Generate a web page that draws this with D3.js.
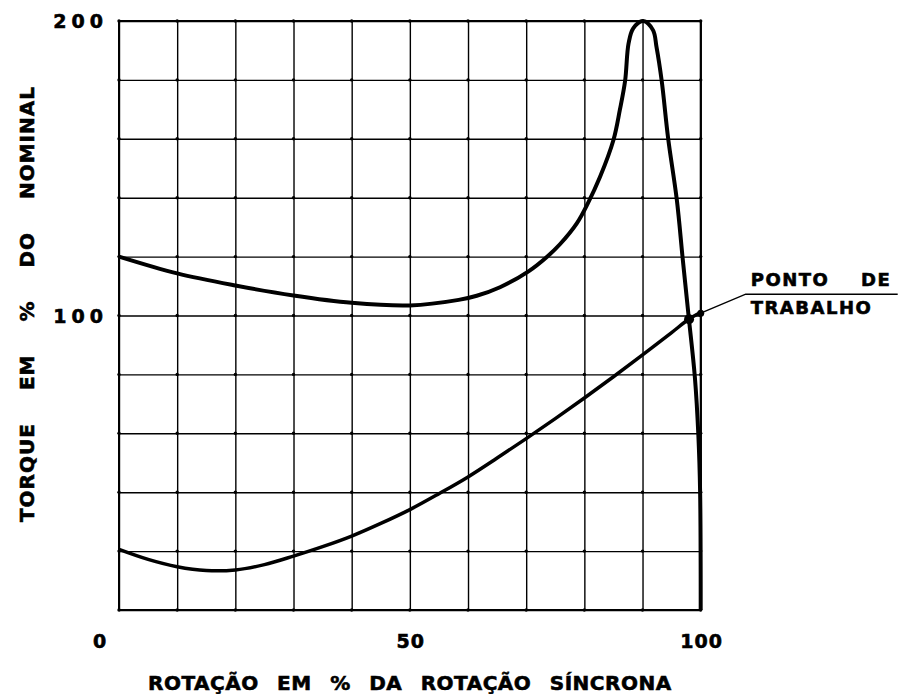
<!DOCTYPE html>
<html>
<head>
<meta charset="utf-8">
<script src="https://cdn.jsdelivr.net/npm/d3@7"></script>
<style>
    body { margin: 0; background: #fff; }
    text { font-family: "DejaVu Sans", sans-serif; font-weight: bold; fill: #000; stroke: #000; stroke-width: 0.6px; }
</style>
</head>
<body>
<div id="chart"></div>
<script>

// curva do motor (torque em % do nominal x rotacao em % da sincrona)
var motorSpeed  = [0, 10, 20, 30, 40, 50, 58.4, 61.5, 65.5, 70.4, 73.5, 75.8, 78.7, 80.6, 82.7, 85.0, 86.1, 87.0, 87.6, 88.4, 90.1, 91.8, 92.4, 93.3, 94.4, 95.9, 96.9, 97.9, 99.0, 99.6, 99.9, 100];
var motorTorque = [120, 114.3, 110.2, 106.8, 104.3, 103.4, 105.3, 106.7, 109.6, 115.0, 119.8, 124.2, 131.3, 138.1, 147.1, 159.6, 169.8, 179.6, 192.4, 197.5, 200, 196.9, 191.2, 179.6, 160.2, 139.2, 119.4, 100.2, 79, 59.3, 40, 0];

// curva da carga
var loadSpeed  = [0, 5, 10, 15, 20, 25, 30, 35, 40, 45, 50, 55, 60, 65, 70, 75, 80, 85, 90, 95, 98, 100];
var loadTorque = [20.6, 17.2, 14.7, 13.4, 13.6, 15.4, 18.3, 21.5, 25.1, 29.4, 34.1, 39.5, 45.2, 51.6, 58.2, 65.0, 72.0, 79.2, 86.6, 94.2, 98.8, 101];

// ponto de trabalho e marca na borda
var workPoint = [98, 98.7];
var edgePoint = [100, 100.8];

var xGridValues = [0, 10, 20, 30, 40, 50, 60, 70, 80, 90, 100];
var yGridValues = [0, 20, 40, 60, 80, 100, 120, 140, 160, 180, 200];
var xTickLabels = [0, 50, 100];
var yTickLabels = [100, 200];

var xTitle = "ROTAÇÃO EM % DA ROTAÇÃO SÍNCRONA";
var yTitle = "TORQUE EM % DO NOMINAL";
var pointLabel = ["PONTO DE", "TRABALHO"];


var torqueChart = {
    init: function(){

        var margin = {top: 21, right: 206.3, bottom: 84, left: 119},
            width = 907 - margin.left - margin.right,
            height = 694 - margin.top - margin.bottom

        var svg = d3.select("#chart")
            .append("svg")
            .attr("width", 907)
            .attr("height", 694)

        var g = svg.append("g")
            .attr("transform", "translate(" + margin.left + "," + margin.top + ")")

        var x = d3.scaleLinear()
            .domain([0, 100])
            .range([0, width]);

        var y = d3.scaleLinear()
            .domain([0, 200])
            .range([height, 0]);

        // grade
        var xGrid = g.append("g")
            .attr("transform", "translate(0," + height + ")")
            .call(d3.axisBottom(x).tickValues(xGridValues).tickSize(-height).tickFormat(""))
        xGrid.select(".domain").remove()

        var yGrid = g.append("g")
            .call(d3.axisLeft(y).tickValues(yGridValues).tickSize(-width).tickFormat(""))
        yGrid.select(".domain").remove()

        g.selectAll(".tick line")
            .attr("stroke", "#000")
            .attr("stroke-width", 1.4)

        // pontinhos nos cruzamentos
        var crossings = [];
        xGridValues.forEach(function(a){
            yGridValues.forEach(function(b){
                crossings.push([a, b]);
            })
        })
        g.selectAll(".cross")
            .data(crossings)
            .enter()
            .append("circle")
            .attr("class", "cross")
            .attr("cx", function(d){ return x(d[0]) })
            .attr("cy", function(d){ return y(d[1]) })
            .attr("r", 1.7)
            .attr("fill", "#000")

        g.append("rect")
            .attr("width", width)
            .attr("height", height)
            .attr("fill", "none")
            .attr("stroke", "#000")
            .attr("stroke-width", 2)

        // rotulos dos eixos
        g.selectAll(".x-label")
            .data(xTickLabels)
            .enter()
            .append("text")
            .attr("class", "x-label")
            .attr("x", function(d){ return x(d) + (d == 0 ? -19 : 1) })
            .attr("y", height + 38)
            .attr("text-anchor", "middle")
            .style("font-size", "19px")
            .style("letter-spacing", "1px")
            .text(function(d){ return d })

        g.selectAll(".y-label")
            .data(yTickLabels)
            .enter()
            .append("text")
            .attr("class", "y-label")
            .attr("x", -11)
            .attr("y", function(d){ return y(d) + 7 })
            .attr("text-anchor", "end")
            .style("font-size", "19px")
            .style("letter-spacing", "5px")
            .text(function(d){ return d })

        svg.append("text")
            .attr("x", margin.left + x(50))
            .attr("y", 690)
            .attr("text-anchor", "middle")
            .style("font-size", "20px")
            .style("letter-spacing", "0.5px")
            .style("word-spacing", "11px")
            .text(xTitle)

        svg.append("text")
            .attr("transform", "translate(34,304) rotate(-90)")
            .attr("text-anchor", "middle")
            .style("font-size", "20px")
            .style("letter-spacing", "1px")
            .style("word-spacing", "25px")
            .text(yTitle)

        // curvas
        var line = d3.line()
            .x(function(d){ return x(d[0]) })
            .y(function(d){ return y(d[1]) })
            .curve(d3.curveCatmullRom.alpha(0.5))

        g.append("path")
            .datum(motorSpeed.map(function(d, i){ return [d, motorTorque[i]] }))
            .attr("d", line)
            .attr("fill", "none")
            .attr("stroke", "#000")
            .attr("stroke-width", 4)
            .attr("stroke-linejoin", "round")

        g.append("path")
            .datum(loadSpeed.map(function(d, i){ return [d, loadTorque[i]] }))
            .attr("d", line)
            .attr("fill", "none")
            .attr("stroke", "#000")
            .attr("stroke-width", 3.5)

        g.append("circle")
            .attr("cx", x(workPoint[0]))
            .attr("cy", y(workPoint[1]))
            .attr("r", 5)
            .attr("fill", "#000")

        g.append("circle")
            .attr("cx", x(edgePoint[0]))
            .attr("cy", y(edgePoint[1]))
            .attr("r", 3.5)
            .attr("fill", "#000")

        // chamada do ponto de trabalho
        var ex = x(edgePoint[0]), ey = y(edgePoint[1]);
        g.append("path")
            .attr("d", "M" + ex + "," + ey + "L" + (ex + 45) + "," + (ey - 19) + "H" + (ex + 197))
            .attr("fill", "none")
            .attr("stroke", "#000")
            .attr("stroke-width", 1.5)

        g.selectAll(".point-label")
            .data(pointLabel)
            .enter()
            .append("text")
            .attr("class", "point-label")
            .attr("x", ex + 50)
            .attr("y", function(d, i){ return ey - 27 + i * 28 })
            .style("font-size", "18px")
            .style("letter-spacing", "1.5px")
            .style("word-spacing", "24px")
            .text(function(d){ return d })
    }
}

torqueChart.init()

</script>
</body>
</html>
